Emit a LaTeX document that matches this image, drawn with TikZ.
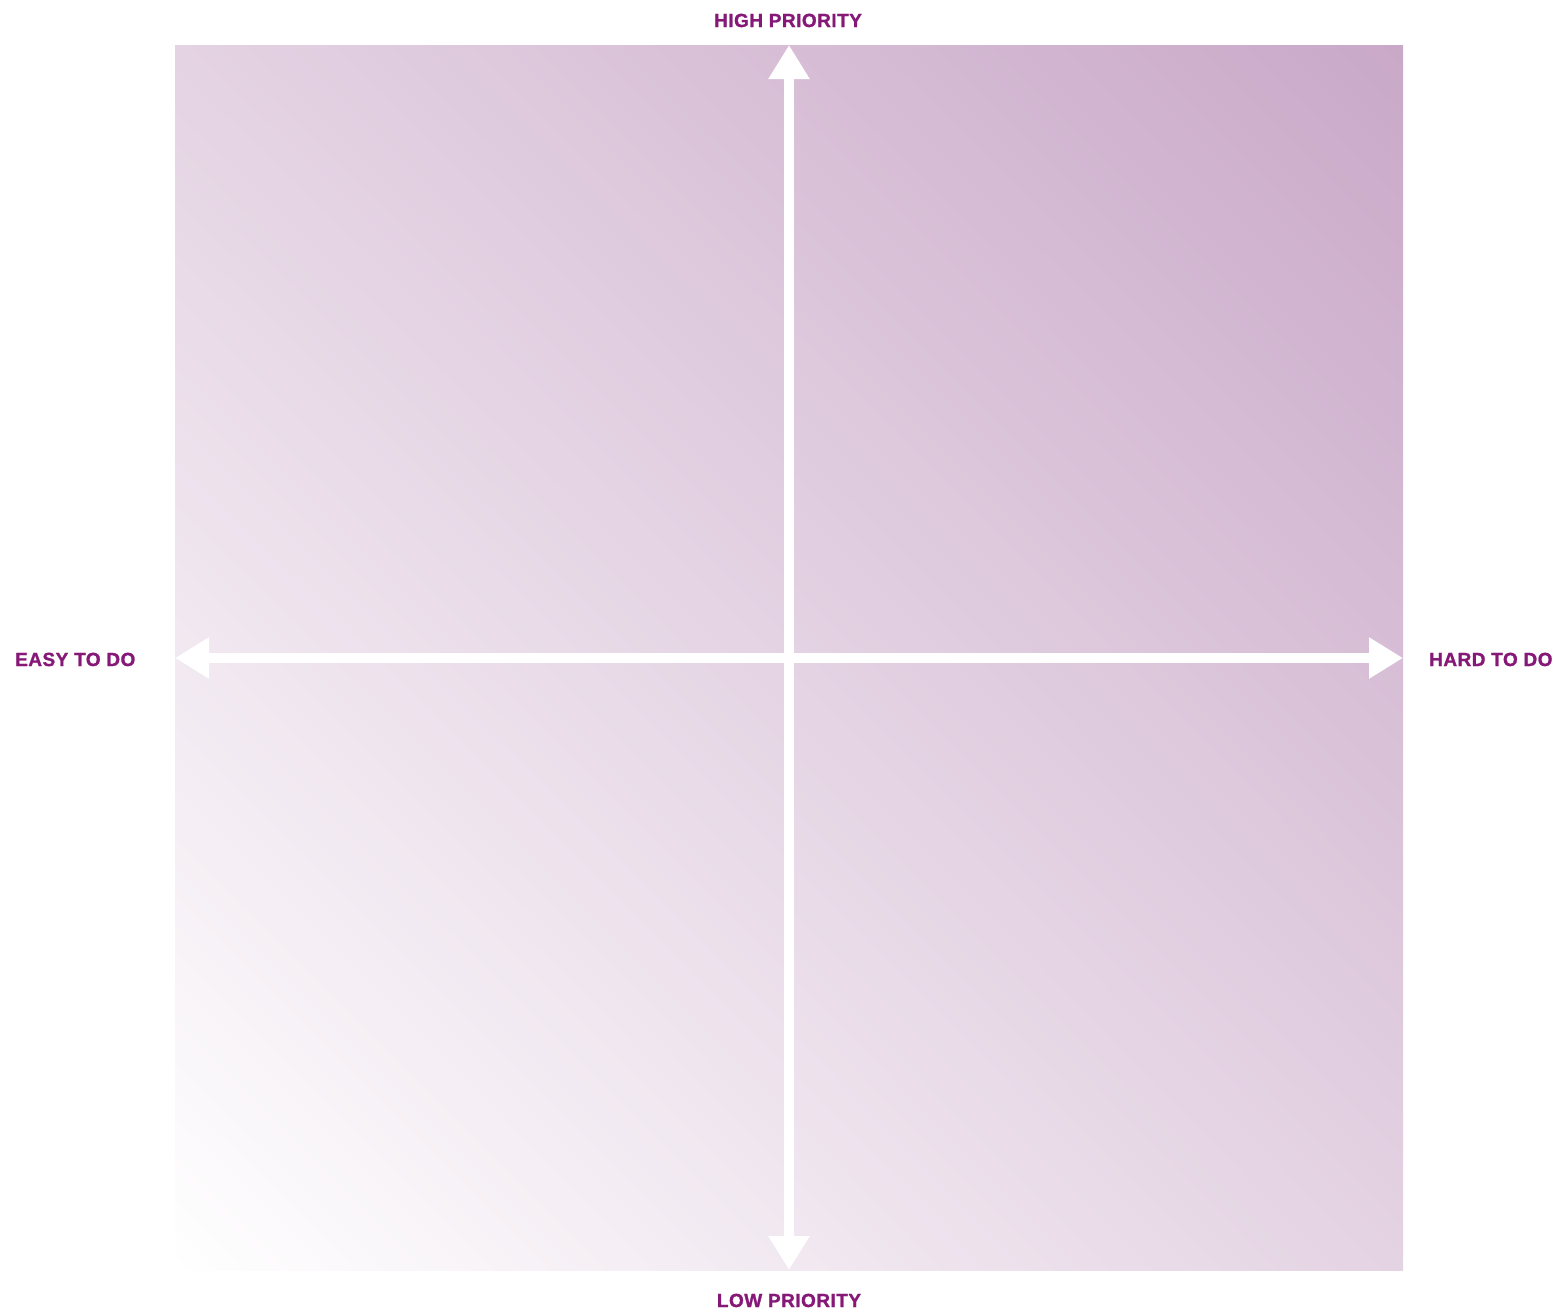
\documentclass[tikz,border=0pt]{standalone}
\usepackage{fontspec}
\setmainfont{Liberation Sans}
\usetikzlibrary{arrows.meta,shadings}
\definecolor{labelpurple}{RGB}{134,24,120}
\definecolor{darkcorner}{RGB}{201,168,200}
\definecolor{midcorner}{RGB}{228,211,227}
\tikzset{
  axislabel/.style={inner sep=0pt, text=labelpurple, font=\fontsize{19}{19}\selectfont\bfseries\addfontfeature{LetterSpace=2.5,FakeBold=1.2}},
  axisarrow/.style={draw=white, line width=10.5pt,
    arrows={Triangle[length=34pt,width=39pt]-Triangle[length=34pt,width=39pt]}}
}
\begin{document}
\begin{tikzpicture}[x=1pt,y=-1pt]
\useasboundingbox (0,0) rectangle (1562,1312);
\fill[white] (0,0) rectangle (1562,1312);
% gradient square
\shade[lower left=white, upper right=darkcorner, upper left=midcorner, lower right=midcorner]
  (175,1270) rectangle (1403,45);
% axis end points
\coordinate (top) at (789,45);
\coordinate (bottom) at (789,1270);
\coordinate (left) at (175,658);
\coordinate (right) at (1403,658);
\draw[axisarrow] (bottom) -- (top);
\draw[axisarrow] (left) -- (right);
% labels
\node[axislabel, anchor=base] (high) at (788,27) {HIGH PRIORITY};
\node[axislabel, anchor=base] (low) at (789,1307) {LOW PRIORITY};
\node[axislabel, anchor=base west] (easy) at (15,666) {EASY TO DO};
\node[axislabel, anchor=base west] (hard) at (1429,666) {HARD TO DO};
\end{tikzpicture}
\end{document}
